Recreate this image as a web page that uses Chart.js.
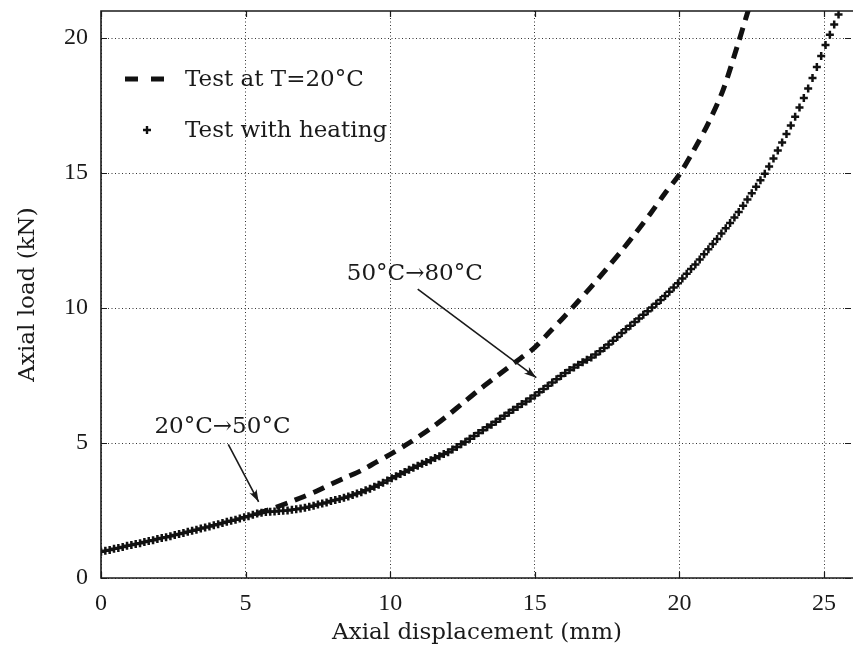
<!DOCTYPE html>
<html>
<head>
<meta charset="utf-8">
<script src="https://cdn.jsdelivr.net/npm/chart.js@4.4.1/dist/chart.umd.min.js"></script>
<style>
  html, body { margin: 0; padding: 0; background: #ffffff; }
  #wrap { width: 853px; height: 657px; }
</style>
</head>
<body>
<div id="wrap"><canvas id="c" width="853" height="657"></canvas></div>
<script>
// ---------- data ----------
const heatX = [
  0.00,0.15,0.30,0.45,0.60,0.75,0.90,1.05,1.20,1.35,1.50,1.65,1.80,1.95,2.10,2.25,2.40,2.55,2.70,2.85,
  3.00,3.15,3.30,3.45,3.60,3.75,3.90,4.05,4.20,4.35,4.50,4.65,4.80,4.95,5.10,5.25,5.40,5.55,5.70,5.85,
  6.00,6.15,6.30,6.45,6.60,6.75,6.90,7.05,7.20,7.35,7.50,7.65,7.80,7.95,8.10,8.25,8.40,8.55,8.70,8.85,
  9.00,9.15,9.30,9.45,9.60,9.75,9.90,10.05,10.20,10.35,10.50,10.65,10.80,10.95,11.10,11.25,11.40,11.55,11.70,11.85,
  12.00,12.15,12.30,12.45,12.60,12.75,12.90,13.05,13.20,13.35,13.50,13.65,13.80,13.95,14.10,14.25,14.40,14.55,14.70,14.85,
  15.00,15.15,15.30,15.45,15.60,15.75,15.90,16.05,16.20,16.35,16.50,16.65,16.80,16.95,17.10,17.25,17.40,17.55,17.70,17.85,
  18.00,18.15,18.30,18.45,18.60,18.75,18.90,19.05,19.20,19.35,19.50,19.65,19.80,19.95,20.10,20.25,20.40,20.55,20.70,20.85,
  21.00,21.15,21.30,21.45,21.60,21.75,21.90,22.05,22.20,22.35,22.50,22.65,22.80,22.95,23.10,23.25,23.40,23.55,23.70,23.85,
  24.00,24.15,24.30,24.45,24.60,24.75,24.90,25.05,25.20,25.35,25.50,25.65
];
const heatY = [
  0.97,1.01,1.04,1.08,1.11,1.15,1.19,1.22,1.26,1.29,1.33,1.37,1.40,1.44,1.48,1.51,1.55,1.59,1.63,1.67,
  1.71,1.75,1.79,1.83,1.87,1.91,1.95,1.99,2.04,2.08,2.12,2.16,2.20,2.25,2.29,2.34,2.39,2.42,2.44,2.45,
  2.46,2.48,2.49,2.50,2.53,2.55,2.57,2.60,2.64,2.68,2.72,2.76,2.80,2.85,2.89,2.93,2.97,3.02,3.07,3.13,
  3.18,3.25,3.31,3.38,3.45,3.53,3.61,3.69,3.77,3.85,3.93,4.01,4.08,4.16,4.23,4.30,4.36,4.44,4.51,4.59,
  4.66,4.76,4.85,4.95,5.05,5.16,5.26,5.37,5.47,5.58,5.68,5.79,5.90,6.01,6.12,6.23,6.33,6.44,6.54,6.65,
  6.76,6.88,7.00,7.12,7.24,7.36,7.48,7.59,7.70,7.80,7.90,7.99,8.08,8.17,8.28,8.40,8.52,8.65,8.79,8.93,
  9.07,9.21,9.34,9.48,9.61,9.75,9.88,10.02,10.16,10.30,10.44,10.60,10.76,10.92,11.09,11.27,11.44,11.61,11.80,11.99,
  12.18,12.37,12.56,12.76,12.95,13.15,13.35,13.56,13.79,14.02,14.25,14.49,14.73,14.97,15.24,15.54,15.83,16.13,16.44,16.76,
  17.08,17.43,17.78,18.13,18.52,18.93,19.33,19.74,20.12,20.50,20.87,21.25
];
const coldX = [5.4,6.0,6.5,7.0,7.5,8.0,8.5,9.0,9.5,10.0,10.5,11.0,11.5,12.0,12.5,13.0,13.5,14.0,14.5,15.0,
  15.5,16.0,16.5,17.0,17.5,18.0,18.5,19.0,19.5,20.0,20.5,21.0,21.5,22.0,22.3,22.6];
const coldY = [2.38,2.60,2.80,3.01,3.24,3.50,3.74,3.98,4.28,4.58,4.90,5.25,5.62,6.03,6.47,6.91,7.32,7.73,8.13,8.54,
  9.10,9.66,10.25,10.85,11.48,12.12,12.80,13.50,14.25,14.95,15.85,16.85,18.05,19.70,20.75,21.80];

const seriesNames = ['Test at T=20°C', 'Test with heating'];
const xTickValues = [0, 5, 10, 15, 20, 25];
const yTickValues = [0, 5, 10, 15, 20];
const xTitle = 'Axial displacement (mm)';
const yTitle = 'Axial load (kN)';
// annotation labels with [textX, textY, arrowFromX, arrowFromY, arrowToX, arrowToY] in data units
const noteTexts = ['20°C→50°C', '50°C→80°C'];
const noteAnchors = [
  [4.2, 5.6, 4.4, 4.95, 5.45, 2.82],
  [10.85, 11.25, 10.95, 10.7, 15.05, 7.42]
];

// ---------- chart ----------
const FONT = "'DejaVu Serif', 'Liberation Serif', serif";
const NUMFONT = "'Liberation Serif', 'DejaVu Serif', serif";
const FS = 23;
const INK = '#1a1a1a';

const framePlugin = {
  id: 'frameAndNotes',
  afterDatasetsDraw(chart) {
    const ctx = chart.ctx;
    const a = chart.chartArea;
    const xs = chart.scales.x, ys = chart.scales.y;
    ctx.save();
    // frame
    ctx.strokeStyle = INK;
    ctx.lineWidth = 1.6;
    ctx.beginPath();
    ctx.moveTo(a.right + 2, a.top); ctx.lineTo(a.left, a.top);
    ctx.lineTo(a.left, a.bottom); ctx.lineTo(a.right + 2, a.bottom);
    ctx.stroke();
    // inner ticks
    ctx.lineWidth = 1.2;
    const tl = 6;
    xTickValues.forEach(v => {
      const px = Math.round(xs.getPixelForValue(v)) + 0.5;
      ctx.beginPath();
      ctx.moveTo(px, a.bottom); ctx.lineTo(px, a.bottom - tl);
      ctx.moveTo(px, a.top); ctx.lineTo(px, a.top + tl);
      ctx.stroke();
    });
    yTickValues.forEach(v => {
      const py = Math.round(ys.getPixelForValue(v)) + 0.5;
      ctx.beginPath();
      ctx.moveTo(a.left, py); ctx.lineTo(a.left + tl, py);
      ctx.moveTo(a.right - 2, py); ctx.lineTo(a.right - 2 - tl, py);
      ctx.stroke();
    });
    // legend
    ctx.fillStyle = INK;
    ctx.font = FS + 'px ' + FONT;
    ctx.textBaseline = 'middle';
    ctx.textAlign = 'left';
    const lx = a.left + 24, ly1 = 79, ly2 = 130;
    ctx.save();
    ctx.strokeStyle = '#111';
    ctx.lineWidth = 5;
    ctx.setLineDash([13, 13]);
    ctx.beginPath(); ctx.moveTo(lx, ly1); ctx.lineTo(lx + 40, ly1); ctx.stroke();
    ctx.restore();
    ctx.save();
    ctx.strokeStyle = '#111';
    ctx.lineWidth = 2.4;
    ctx.beginPath();
    ctx.moveTo(lx + 22 - 4, ly2); ctx.lineTo(lx + 22 + 4, ly2);
    ctx.moveTo(lx + 22, ly2 - 4); ctx.lineTo(lx + 22, ly2 + 4);
    ctx.stroke();
    ctx.restore();
    ctx.fillText(seriesNames[0], lx + 60, ly1 + 1);
    ctx.fillText(seriesNames[1], lx + 60, ly2 + 1);
    // annotations
    noteTexts.forEach((t, i) => {
      const n = noteAnchors[i];
      ctx.textAlign = 'center';
      ctx.textBaseline = 'middle';
      ctx.fillStyle = INK;
      ctx.fillText(t, xs.getPixelForValue(n[0]), ys.getPixelForValue(n[1]));
      const x1 = xs.getPixelForValue(n[2]), y1 = ys.getPixelForValue(n[3]);
      const x2 = xs.getPixelForValue(n[4]), y2 = ys.getPixelForValue(n[5]);
      ctx.strokeStyle = INK;
      ctx.lineWidth = 1.6;
      ctx.beginPath(); ctx.moveTo(x1, y1); ctx.lineTo(x2, y2); ctx.stroke();
      const ang = Math.atan2(y2 - y1, x2 - x1);
      const hl = 13, hw = 0.32;
      ctx.beginPath();
      ctx.moveTo(x2, y2);
      ctx.lineTo(x2 - hl * Math.cos(ang - hw), y2 - hl * Math.sin(ang - hw));
      ctx.quadraticCurveTo(x2 - hl * 0.6 * Math.cos(ang), y2 - hl * 0.6 * Math.sin(ang),
                           x2 - hl * Math.cos(ang + hw), y2 - hl * Math.sin(ang + hw));
      ctx.closePath();
      ctx.fillStyle = INK;
      ctx.fill();
    });
    ctx.restore();
  }
};

new Chart(document.getElementById('c'), {
  type: 'scatter',
  data: {
    datasets: [
      {
        label: seriesNames[0],
        data: coldX.map((x, i) => ({ x, y: coldY[i] })),
        showLine: true,
        borderColor: '#111',
        borderWidth: 5,
        borderDash: [12, 8],
        borderCapStyle: 'butt',
        pointRadius: 0,
        tension: 0.3,
        fill: false
      },
      {
        label: seriesNames[1],
        data: heatX.map((x, i) => ({ x, y: heatY[i] })),
        showLine: false,
        pointStyle: 'cross',
        pointRadius: 4,
        pointBorderWidth: 2.5,
        pointBorderColor: '#111',
        pointBackgroundColor: '#111'
      }
    ]
  },
  options: {
    responsive: false,
    animation: false,
    devicePixelRatio: 1,
    layout: { autoPadding: false, padding: { top: 11, right: 0, bottom: 0, left: 0 } },
    plugins: { legend: { display: false }, tooltip: { enabled: false } },
    scales: {
      x: {
        type: 'linear', min: 0, max: 26,
        afterBuildTicks: s => { s.ticks = xTickValues.map(v => ({ value: v })); },
        afterFit: s => { s.height = 79; s.paddingLeft = 0; s.paddingRight = 0; },
        grid: { color: '#333', lineWidth: 1, drawTicks: false },
        border: { display: false, dash: [1, 2.5] },
        ticks: { color: INK, font: { family: NUMFONT, size: 24 }, padding: 11, maxRotation: 0 },
        title: { display: true, text: xTitle, color: INK, font: { family: FONT, size: FS }, padding: { top: 2, bottom: 10 } }
      },
      y: {
        type: 'linear', min: 0, max: 21,
        afterBuildTicks: s => { s.ticks = yTickValues.map(v => ({ value: v })); },
        afterFit: s => { s.width = 101; s.paddingTop = 0; s.paddingBottom = 0; },
        grid: { color: '#333', lineWidth: 1, drawTicks: false },
        border: { display: false, dash: [1, 2.5] },
        ticks: { color: INK, font: { family: NUMFONT, size: 24 }, padding: 13 },
        title: { display: true, text: yTitle, color: INK, font: { family: FONT, size: FS }, padding: { top: 14, bottom: 10 } }
      }
    }
  },
  plugins: [framePlugin]
});
</script>
</body>
</html>
